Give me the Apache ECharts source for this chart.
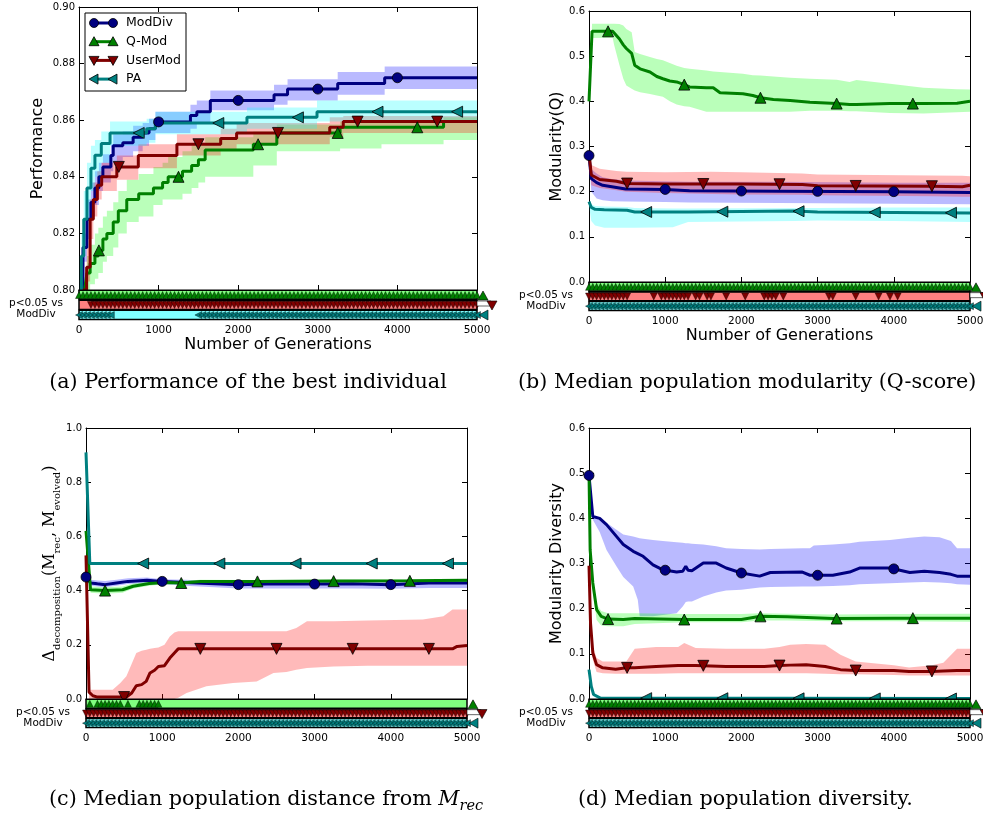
<!DOCTYPE html>
<html><head><meta charset="utf-8">
<script src="https://cdn.jsdelivr.net/npm/echarts@6/dist/echarts.min.js"></script>
<style>html,body{margin:0;padding:0;background:#fff}#c{width:983px;height:823px}</style>
</head><body><div id="c"></div>
<script>
// ---------- DATA: rows are [generation, median, lower, upper] ----------
const seriesNames = ['ModDiv', 'Q-Mod', 'UserMod', 'PA'];
const xTicks = [0, 1000, 2000, 3000, 4000, 5000];

// (a) Performance of the best individual (step data: value holds until next generation)
const perfModDiv = [[0,0.795,0.795,0.795],[50,0.815,0.810,0.820],[100,0.825,0.818,0.832],[150,0.831,0.826,0.838],[200,0.836,0.830,0.842],[250,0.840,0.835,0.845],[300,0.8435,0.838,0.848],[400,0.8475,0.842,0.8515],[430,0.851,0.845,0.855],[550,0.852,0.847,0.856],[680,0.854,0.849,0.858],[800,0.8555,0.851,0.859],[880,0.857,0.853,0.8605],[960,0.8594,0.8555,0.863],[1400,0.8617,0.857,0.8655],[1480,0.863,0.859,0.867],[1650,0.867,0.8635,0.8705],[2450,0.869,0.8655,0.8725],[2620,0.871,0.867,0.8745],[3250,0.873,0.869,0.877],[3840,0.875,0.871,0.879],[5000,0.875,0.871,0.879]];
const perfQMod = [[0,0.796,0.795,0.797],[75,0.801,0.799,0.806],[100,0.806,0.800,0.812],[140,0.8094,0.802,0.816],[200,0.812,0.804,0.820],[243,0.814,0.806,0.822],[300,0.818,0.810,0.826],[350,0.820,0.812,0.828],[430,0.824,0.815,0.831],[494,0.828,0.820,0.835],[600,0.832,0.824,0.839],[750,0.834,0.826,0.841],[935,0.836,0.830,0.8435],[1050,0.838,0.832,0.845],[1120,0.840,0.832,0.847],[1300,0.842,0.834,0.849],[1415,0.844,0.836,0.851],[1500,0.846,0.838,0.852],[1585,0.8495,0.840,0.854],[2190,0.8515,0.844,0.856],[2485,0.8555,0.849,0.8585],[3280,0.8575,0.850,0.8595],[3800,0.8575,0.8515,0.8595],[4580,0.8595,0.853,0.861],[5000,0.8595,0.853,0.861]];
const perfUserMod = [[0,0.796,0.795,0.798],[50,0.800,0.797,0.803],[96,0.808,0.803,0.815],[140,0.825,0.818,0.832],[180,0.832,0.826,0.838],[230,0.837,0.832,0.842],[285,0.840,0.835,0.845],[475,0.8435,0.839,0.8475],[745,0.8475,0.843,0.8515],[1230,0.8515,0.8475,0.855],[1780,0.8535,0.8495,0.857],[1980,0.8555,0.8515,0.859],[3150,0.8575,0.854,0.861],[3320,0.8595,0.8555,0.8615],[5000,0.8595,0.8555,0.8615]];
const perfPA = [[0,0.796,0.795,0.797],[30,0.812,0.805,0.820],[60,0.825,0.815,0.835],[100,0.836,0.826,0.845],[150,0.843,0.835,0.851],[200,0.8476,0.840,0.853],[280,0.8518,0.845,0.856],[390,0.8555,0.851,0.8595],[850,0.857,0.852,0.8605],[960,0.859,0.855,0.863],[2110,0.861,0.857,0.8645],[2990,0.863,0.8595,0.867],[5000,0.863,0.8595,0.867]];

// (b) Median population modularity (Q-score)
const modqModDiv = [[0,0.280,0.280,0.285],[30,0.229,0.200,0.250],[100,0.220,0.185,0.240],[180,0.214,0.181,0.232],[300,0.211,0.179,0.228],[480,0.206,0.178,0.225],[1000,0.205,0.177,0.223],[1320,0.202,0.176,0.222],[2500,0.201,0.175,0.222],[4000,0.200,0.173,0.220],[5000,0.198,0.172,0.220]];
const modqQMod = [[0,0.400,0.400,0.400],[40,0.555,0.540,0.572],[310,0.555,0.541,0.572],[330,0.552,0.525,0.572],[400,0.538,0.480,0.571],[450,0.525,0.450,0.568],[490,0.517,0.435,0.560],[560,0.506,0.428,0.553],[600,0.480,0.424,0.509],[670,0.472,0.420,0.505],[800,0.465,0.416,0.498],[890,0.455,0.413,0.494],[970,0.450,0.410,0.491],[1060,0.445,0.400,0.485],[1150,0.443,0.393,0.479],[1250,0.437,0.389,0.474],[1320,0.432,0.388,0.472],[1540,0.430,0.377,0.468],[1630,0.430,0.377,0.466],[1720,0.419,0.377,0.465],[2020,0.417,0.377,0.461],[2150,0.413,0.377,0.458],[2250,0.408,0.377,0.457],[2420,0.404,0.377,0.455],[2640,0.402,0.377,0.452],[2900,0.398,0.379,0.450],[3250,0.395,0.379,0.448],[3420,0.393,0.378,0.443],[3510,0.393,0.378,0.447],[3950,0.395,0.374,0.439],[4390,0.395,0.373,0.430],[4830,0.396,0.376,0.427],[5000,0.400,0.377,0.426]];
const modqUserMod = [[0,0.285,0.280,0.290],[30,0.237,0.214,0.259],[140,0.227,0.208,0.251],[360,0.223,0.203,0.246],[490,0.218,0.200,0.244],[1000,0.217,0.197,0.243],[1600,0.217,0.195,0.244],[2000,0.217,0.194,0.243],[2800,0.216,0.193,0.240],[3000,0.213,0.192,0.238],[4500,0.212,0.190,0.236],[4900,0.211,0.189,0.235],[5000,0.214,0.189,0.234]];
const modqPA = [[0,0.178,0.170,0.180],[30,0.165,0.135,0.172],[80,0.161,0.125,0.168],[200,0.160,0.120,0.167],[500,0.159,0.120,0.166],[600,0.155,0.120,0.164],[1100,0.155,0.121,0.163],[1300,0.155,0.133,0.163],[2700,0.157,0.135,0.164],[3000,0.155,0.136,0.164],[4000,0.154,0.135,0.165],[5000,0.153,0.133,0.165]];

// (c) Median population distance from M_rec
const distModDiv = [[0,0.450,0.440,0.460],[60,0.428,0.418,0.440],[150,0.425,0.415,0.437],[250,0.422,0.412,0.435],[400,0.428,0.418,0.440],[550,0.434,0.424,0.446],[800,0.438,0.428,0.448],[1000,0.434,0.424,0.442],[1300,0.430,0.418,0.440],[2000,0.422,0.408,0.432],[2500,0.425,0.408,0.435],[3000,0.424,0.408,0.434],[3500,0.425,0.408,0.436],[4000,0.422,0.407,0.434],[4500,0.428,0.410,0.437],[5000,0.428,0.410,0.438]];
const distQMod = [[0,0.620,0.600,0.640],[60,0.403,0.392,0.415],[250,0.400,0.388,0.412],[480,0.403,0.392,0.415],[620,0.416,0.408,0.426],[830,0.426,0.418,0.434],[1050,0.430,0.424,0.437],[1250,0.428,0.422,0.435],[1500,0.434,0.428,0.440],[2250,0.434,0.430,0.439],[3250,0.435,0.431,0.440],[4250,0.436,0.432,0.441],[5000,0.438,0.434,0.442]];
const distUserMod = [[0,0.530,0.520,0.540],[40,0.025,0.000,0.034],[90,0.012,0.000,0.034],[150,0.007,0.000,0.034],[350,0.007,0.000,0.034],[450,0.007,0.000,0.059],[530,0.007,0.000,0.084],[600,0.022,0.000,0.130],[660,0.049,0.000,0.170],[730,0.053,0.000,0.178],[790,0.065,0.000,0.182],[840,0.096,0.000,0.185],[900,0.106,0.000,0.188],[950,0.120,0.000,0.190],[1030,0.123,0.000,0.200],[1100,0.151,0.000,0.231],[1160,0.170,0.000,0.245],[1210,0.185,0.005,0.250],[1320,0.185,0.022,0.250],[1580,0.185,0.047,0.250],[1930,0.185,0.059,0.250],[2240,0.185,0.065,0.250],[2460,0.185,0.096,0.250],[2630,0.185,0.100,0.250],[2760,0.185,0.108,0.262],[2900,0.185,0.114,0.287],[3250,0.185,0.120,0.287],[3700,0.185,0.123,0.290],[4420,0.185,0.123,0.293],[4690,0.185,0.123,0.305],[4810,0.185,0.123,0.330],[4870,0.194,0.123,0.330],[5000,0.197,0.123,0.330]];
const distPA = [[0,0.910,0.900,0.920],[50,0.500,0.497,0.503],[5000,0.500,0.497,0.503]];

// (d) Median population diversity
const divModDiv = [[0,0.495,0.490,0.500],[50,0.404,0.397,0.406],[140,0.400,0.370,0.400],[230,0.386,0.330,0.390],[360,0.360,0.294,0.375],[450,0.342,0.270,0.364],[580,0.327,0.249,0.360],[640,0.322,0.220,0.357],[665,0.320,0.183,0.356],[710,0.316,0.183,0.355],[840,0.297,0.183,0.352],[970,0.286,0.186,0.350],[1150,0.281,0.190,0.347],[1230,0.283,0.205,0.346],[1270,0.294,0.215,0.345],[1300,0.285,0.216,0.345],[1350,0.284,0.216,0.344],[1500,0.301,0.227,0.342],[1670,0.301,0.236,0.338],[1800,0.290,0.240,0.334],[2000,0.279,0.242,0.332],[2240,0.272,0.247,0.331],[2380,0.280,0.248,0.332],[2800,0.281,0.249,0.334],[2900,0.274,0.249,0.334],[2950,0.274,0.249,0.340],[3200,0.274,0.250,0.342],[3420,0.281,0.252,0.345],[3550,0.290,0.254,0.348],[3950,0.290,0.256,0.352],[4210,0.280,0.258,0.357],[4400,0.283,0.259,0.360],[4600,0.280,0.258,0.358],[4750,0.276,0.256,0.350],[4830,0.272,0.254,0.334],[5000,0.272,0.253,0.334]];
const divQMod = [[0,0.500,0.490,0.510],[15,0.330,0.300,0.350],[50,0.257,0.240,0.270],[100,0.198,0.175,0.210],[160,0.183,0.163,0.195],[250,0.177,0.161,0.190],[450,0.176,0.161,0.190],[600,0.178,0.166,0.190],[1250,0.176,0.170,0.188],[2000,0.176,0.170,0.188],[2250,0.183,0.174,0.190],[2600,0.182,0.174,0.189],[3200,0.178,0.172,0.187],[4000,0.179,0.172,0.188],[5000,0.179,0.171,0.189]];
const divUserMod = [[0,0.295,0.290,0.300],[20,0.168,0.140,0.180],[50,0.102,0.087,0.117],[100,0.076,0.060,0.091],[180,0.069,0.057,0.083],[350,0.066,0.056,0.083],[490,0.069,0.056,0.083],[600,0.069,0.056,0.111],[880,0.072,0.056,0.115],[1170,0.074,0.057,0.115],[1250,0.074,0.057,0.124],[1400,0.074,0.057,0.113],[1800,0.072,0.057,0.111],[2300,0.072,0.057,0.111],[2500,0.074,0.057,0.115],[2640,0.075,0.057,0.120],[2850,0.076,0.057,0.122],[3100,0.072,0.056,0.120],[3300,0.065,0.055,0.098],[3500,0.063,0.055,0.083],[4000,0.063,0.053,0.075],[4200,0.061,0.052,0.070],[4500,0.061,0.052,0.075],[4650,0.062,0.052,0.080],[4830,0.063,0.052,0.111],[5000,0.063,0.052,0.111]];
const divPA = [[0,0.065,0.060,0.070],[30,0.028,0.020,0.035],[60,0.010,0.005,0.015],[150,0.002,0.000,0.004],[5000,0.001,0.000,0.003]];

// p<0.05 vs ModDiv: ranges of generations [from, to] (markers every SIG_STEP generations)
const SIG_STEP = 50;
const sigPerfQMod = [[0,5000]];
const sigPerfUserMod = [[150,5000]];
const sigPerfPA = [[0,400],[1500,5000]];
const sigModqQMod = [[0,5000]];
const sigModqUserMod = [[0,500],[850,850],[950,1300],[1400,1450],[1550,1600],[1800,1800],[2050,2050],[2300,2450],[2550,2550],[3150,3200],[3500,3500],[3800,3800],[3950,3950],[4050,4050]];
const sigModqPA = [[0,5000]];
const sigDistQMod = [[50,50],[150,450],[550,550],[700,950]];
const sigDistUserMod = [[0,5000]];
const sigDistPA = [[0,5000]];
const sigDivQMod = [[0,5000]];
const sigDivUserMod = [[0,5000]];
const sigDivPA = [[0,5000]];

// ---------- STYLE / LAYOUT ----------
const STYLE = [
  {color:'#000080', band:'rgba(0,0,255,0.27)', symbol:'circle', rotate:0, markOffset:0},
  {color:'#008000', band:'rgba(0,255,0,0.27)', symbol:'triangle', rotate:0, markOffset:250},
  {color:'#800000', band:'rgba(255,0,0,0.27)', symbol:'triangle', rotate:180, markOffset:500},
  {color:'#008080', band:'rgba(0,255,255,0.27)', symbol:'triangle', rotate:90, markOffset:750}
];
const STRIP_FILL = ['#80ff80', '#ff8080', '#80ffff'];
const MARK_EVERY = 1000;
const FONT = 'DejaVu Sans';

const panels = [
  {left:79, top:7, width:398, height:283, stripH:30, ymin:0.8, ymax:0.9, yint:0.02, dec:2, ytitle:'Performance', yGap:33, xtitle:'Number of Generations', xGap:17, step:true,
   data:[perfModDiv, perfQMod, perfUserMod, perfPA], sig:[sigPerfQMod, sigPerfUserMod, sigPerfPA]},
  {left:589, top:11, width:381, height:271, stripH:29, ymin:0, ymax:0.6, yint:0.1, dec:1, ytitle:'Modularity(Q)', yGap:24, xtitle:'Number of Generations', xGap:15, step:false,
   data:[modqModDiv, modqQMod, modqUserMod, modqPA], sig:[sigModqQMod, sigModqUserMod, sigModqPA]},
  {left:86, top:428, width:381, height:271, stripH:29, ymin:0, ymax:1.0, yint:0.2, dec:1, ytitle:'{d|Δ}{s|decomposition}{d|(M}{s|rec}{d|, M}{s|evolved}{d|)}', yGap:24, xtitle:'', xGap:15, step:false,
   data:[distModDiv, distQMod, distUserMod, distPA], sig:[sigDistQMod, sigDistUserMod, sigDistPA]},
  {left:589, top:428, width:381, height:271, stripH:29, ymin:0, ymax:0.6, yint:0.1, dec:1, ytitle:'Modularity Diversity', yGap:24, xtitle:'', xGap:15, step:false,
   data:[divModDiv, divQMod, divUserMod, divPA], sig:[sigDivQMod, sigDivUserMod, sigDivPA]}
];

function valueAt(rows, g, step) {
  for (let i = 0; i < rows.length - 1; i++) {
    if (g >= rows[i][0] && g < rows[i+1][0]) {
      if (step) return rows[i][1];
      const t = (g - rows[i][0]) / (rows[i+1][0] - rows[i][0]);
      return rows[i][1] + t * (rows[i+1][1] - rows[i][1]);
    }
  }
  return rows[rows.length-1][1];
}
function expandSig(ranges) {
  const out = [];
  ranges.forEach(r => { for (let g = r[0]; g <= r[1]; g += SIG_STEP) out.push(g); });
  return out;
}

const option = {animation:false, textStyle:{fontFamily:FONT}, grid:[], xAxis:[], yAxis:[], series:[], graphic:[]};
const tickStyle = {show:true, inside:true, length:5, lineStyle:{color:'#000', width:1}};
const lineStyle = {show:true, onZero:false, lineStyle:{color:'#000', width:1}};

panels.forEach((P, p) => {
  const gMain = 2*p, gStrip = 2*p+1;
  option.grid.push({left:P.left, top:P.top, width:P.width, height:P.height, outerBoundsMode:'none', containLabel:false});
  option.grid.push({left:P.left, top:P.top+P.height, width:P.width, height:P.stripH, outerBoundsMode:'none', containLabel:false});
  const xi = 3*p, yi = 3*p;
  option.xAxis.push({type:'value', gridIndex:gMain, min:0, max:5000, interval:1000, position:'bottom', axisLine:lineStyle, axisTick:tickStyle, axisLabel:{show:false}, splitLine:{show:false}});
  option.xAxis.push({type:'value', gridIndex:gMain, min:0, max:5000, interval:1000, position:'top', axisLine:lineStyle, axisTick:tickStyle, axisLabel:{show:false}, splitLine:{show:false}});
  option.xAxis.push({type:'value', gridIndex:gStrip, min:0, max:5000, interval:1000, position:'bottom', axisLine:{show:false}, axisTick:{show:false}, splitLine:{show:false},
    axisLabel:{show:true, color:'#000', fontSize:10.5, fontFamily:FONT, margin:5, customValues:xTicks, formatter:v=>String(v)},
    name:P.xtitle, nameLocation:'middle', nameGap:P.xGap, nameTextStyle:{color:'#000', fontSize:16, fontFamily:FONT, verticalAlign:'top'}});
  option.yAxis.push({type:'value', gridIndex:gMain, min:P.ymin, max:P.ymax, interval:P.yint, position:'left', axisLine:lineStyle, axisTick:tickStyle, splitLine:{show:false},
    axisLabel:{show:true, color:'#000', fontSize:10, fontFamily:FONT, margin:4, formatter:v=>v.toFixed(P.dec)},
    name:P.ytitle, nameLocation:'middle', nameRotate:90, nameGap:P.yGap,
    nameTextStyle:{color:'#000', fontSize:16, fontFamily:FONT, verticalAlign:'bottom',
      rich:{d:{fontSize:16, fontFamily:'DejaVu Serif', color:'#000', lineHeight:24, verticalAlign:'middle'},
            s:{fontSize:10, fontFamily:'DejaVu Serif', color:'#000', lineHeight:12, verticalAlign:'bottom'}}}});
  option.yAxis.push({type:'value', gridIndex:gMain, min:P.ymin, max:P.ymax, interval:P.yint, position:'right', axisLine:lineStyle, axisTick:tickStyle, axisLabel:{show:false}, splitLine:{show:false}});
  option.yAxis.push({type:'value', gridIndex:gStrip, min:0, max:3, inverse:true, show:false});

  // bands
  P.data.forEach((rows, k) => {
    const st = STYLE[k];
    option.series.push({type:'custom', name:seriesNames[k]+' band', xAxisIndex:xi, yAxisIndex:yi, silent:true, z:1, clip:true,
      data:[[rows[0][0], rows[0][1]]], encode:{x:0, y:1},
      renderItem:function(params, api){
        const up = [], lo = [];
        for (let i = 0; i < rows.length; i++) {
          const r = rows[i];
          if (P.step && i > 0) { const q = rows[i-1]; up.push(api.coord([r[0], q[3]])); lo.push(api.coord([r[0], q[2]])); }
          up.push(api.coord([r[0], r[3]])); lo.push(api.coord([r[0], r[2]]));
        }
        return {type:'polygon', shape:{points:up.concat(lo.reverse())}, style:{fill:st.band, stroke:null}};
      }});
  });
  // lines
  P.data.forEach((rows, k) => {
    option.series.push({type:'line', name:seriesNames[k], xAxisIndex:xi, yAxisIndex:yi, silent:true, z:2, clip:true,
      data:rows.map(r=>[r[0], r[1]]), showSymbol:false, step:P.step ? 'end' : false,
      lineStyle:{color:STYLE[k].color, width:3}, itemStyle:{color:STYLE[k].color}});
  });
  // markers on the lines (every MARK_EVERY generations, excluding the last generation)
  P.data.forEach((rows, k) => {
    const st = STYLE[k];
    const pts = [];
    for (let g = st.markOffset; g < 5000; g += MARK_EVERY) {
      const v = valueAt(rows, g, P.step);
      if (v >= P.ymin) pts.push([g, v]);
    }
    option.series.push({type:'scatter', xAxisIndex:xi, yAxisIndex:yi, silent:true, z:3, clip:false,
      data:pts, symbol:st.symbol, symbolSize:k===0 ? 10 : 11, symbolRotate:st.rotate,
      itemStyle:{color:st.color, borderColor:'#000', borderWidth:0.8, opacity:1}});
  });
  // significance strip
  option.series.push({type:'custom', xAxisIndex:xi+2, yAxisIndex:yi+2, silent:true, z:5, clip:false,
    data:[[0,5000,0],[0,5000,1],[0,5000,2]], encode:{x:[0,1], y:2},
    renderItem:function(params, api){
      const row = api.value(2);
      const a = api.coord([api.value(0), row+0.03]);
      const b = api.coord([api.value(1), row+0.95]);
      return {type:'rect', shape:{x:a[0], y:Math.min(a[1],b[1]), width:b[0]-a[0], height:Math.abs(b[1]-a[1])},
        style:{fill:STRIP_FILL[row], stroke:'#000', lineWidth:1.5}};
    }});
  P.sig.forEach((ranges, j) => {
    const st = STYLE[j+1];
    option.series.push({type:'scatter', xAxisIndex:xi+2, yAxisIndex:yi+2, silent:true, z:6, clip:false,
      data:expandSig(ranges).map(g=>[g, j+0.5]), symbol:st.symbol, symbolSize:7, symbolRotate:st.rotate,
      itemStyle:{color:st.color, borderColor:'#000', borderWidth:0.4, opacity:1}});
  });
  // strip label and right-side keys
  const sTop = P.top + P.height, rowH = P.stripH/3, right = P.left + P.width;
  option.graphic.push({type:'text', z:100, x:P.left-43, y:sTop + P.stripH/2 + 4,
    style:{text:'p<0.05 vs\nModDiv', font:'10.5px "DejaVu Sans"', fill:'#000', align:'center', verticalAlign:'middle', lineHeight:11}});
  const tri = (cx, cy, r, dir) => {
    if (dir === 'up') return [[cx-r, cy+r*0.8],[cx+r, cy+r*0.8],[cx, cy-r]];
    if (dir === 'down') return [[cx-r, cy-r*0.8],[cx+r, cy-r*0.8],[cx, cy+r]];
    return [[cx+r*0.8, cy-r],[cx+r*0.8, cy+r],[cx-r, cy]];
  };
  option.graphic.push({type:'rect', z:100, shape:{x:right, y:sTop+rowH+1, width:14, height:5}, style:{fill:'#fff', stroke:'#000', lineWidth:0.6}});
  option.graphic.push({type:'polygon', z:101, shape:{points:tri(right+6, sTop+rowH*0.5+1, 5, 'up')}, style:{fill:STYLE[1].color, stroke:'#000', lineWidth:0.6}});
  option.graphic.push({type:'polygon', z:101, shape:{points:tri(right+15, sTop+rowH*1.5, 5, 'down')}, style:{fill:STYLE[2].color, stroke:'#000', lineWidth:0.6}});
  option.graphic.push({type:'polygon', z:101, shape:{points:tri(right+7, sTop+rowH*2.5, 5, 'left')}, style:{fill:STYLE[3].color, stroke:'#000', lineWidth:0.6}});
});

// legend for panel (a)
(function(){
  const lx = 85, ly = 13;
  option.graphic.push({type:'rect', z:100, shape:{x:lx, y:ly, width:101, height:78}, style:{fill:'#fff', stroke:'#000', lineWidth:1}});
  seriesNames.forEach((n, k) => {
    const st = STYLE[k], cy = ly + 10 + 18.7*k;
    option.graphic.push({type:'line', z:101, shape:{x1:lx+9, y1:cy, x2:lx+28, y2:cy}, style:{stroke:st.color, lineWidth:3}});
    [lx+9, lx+28].forEach(cx => {
      let el;
      if (k === 0) el = {type:'circle', shape:{cx:cx, cy:cy, r:4.5}};
      else {
        const dir = k===1 ? 'up' : (k===2 ? 'down' : 'left');
        const r = 5, pts = dir==='up' ? [[cx-r,cy+r*0.8],[cx+r,cy+r*0.8],[cx,cy-r]] : dir==='down' ? [[cx-r,cy-r*0.8],[cx+r,cy-r*0.8],[cx,cy+r]] : [[cx+r*0.8,cy-r],[cx+r*0.8,cy+r],[cx-r,cy]];
        el = {type:'polygon', shape:{points:pts}};
      }
      el.z = 102; el.style = {fill:st.color, stroke:'#000', lineWidth:0.8};
      option.graphic.push(el);
    });
    option.graphic.push({type:'text', z:102, x:lx+41, y:cy, style:{text:n, font:'12.5px "DejaVu Sans"', fill:'#000', verticalAlign:'middle'}});
  });
})();

// captions
const captionFont = '20.7px "DejaVu Serif"';
option.graphic.push({type:'text', z:100, x:248, y:383, style:{text:'(a) Performance of the best individual', font:captionFont, fill:'#000', align:'center', verticalAlign:'middle'}});
option.graphic.push({type:'text', z:100, x:518, y:383, style:{text:'(b) Median population modularity (Q-score)', font:captionFont, fill:'#000', align:'left', verticalAlign:'middle'}});
option.graphic.push({type:'text', z:100, x:49, y:800, style:{text:'{n|(c) Median population distance from }{m|M}{s|rec}', fill:'#000', align:'left', verticalAlign:'middle',
  rich:{n:{font:captionFont, fill:'#000', lineHeight:28, verticalAlign:'middle'}, m:{font:'italic 20.7px "DejaVu Serif"', fill:'#000', lineHeight:28, verticalAlign:'middle'}, s:{font:'italic 14.5px "DejaVu Serif"', fill:'#000', lineHeight:15, verticalAlign:'bottom'}}}});
option.graphic.push({type:'text', z:100, x:578, y:800, style:{text:'(d) Median population diversity.', font:captionFont, fill:'#000', align:'left', verticalAlign:'middle'}});

const chart = echarts.init(document.getElementById('c'), null, {renderer:'canvas'});
chart.setOption(option);
</script></body></html>
